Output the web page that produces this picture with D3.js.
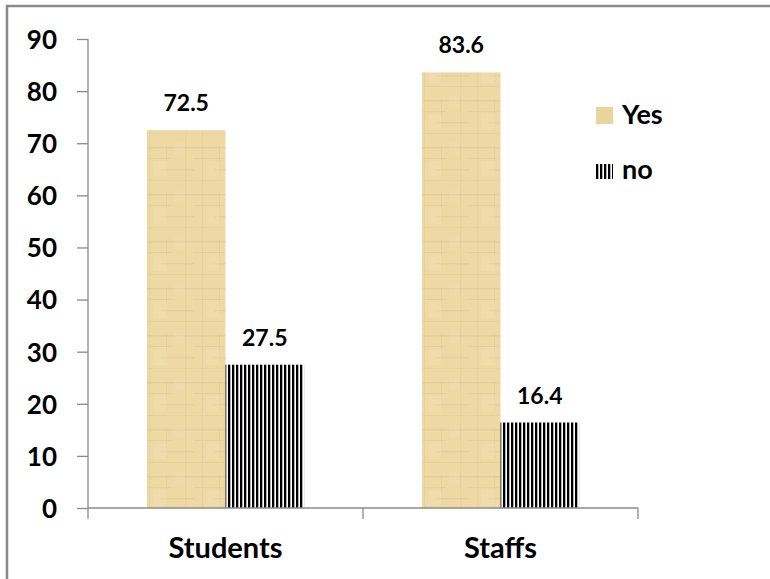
<!DOCTYPE html>
<html>
<head>
<meta charset="utf-8">
<script src="https://cdn.jsdelivr.net/npm/d3@7"></script>
<style>
  html, body { margin: 0; padding: 0; background: #ffffff; }
  svg { display: block; }
  text { font-family: Lato, "Open Sans", sans-serif; font-weight: bold; fill: #000; }
</style>
</head>
<body>
<script>
// ---- data ----
const categories = ["Students", "Staffs"];
const seriesNames = ["Yes", "no"];
const yesValues = [72.5, 83.6];
const noValues = [27.5, 16.4];
const yTickValues = [0, 10, 20, 30, 40, 50, 60, 70, 80, 90];

const W = 770, H = 579;
const svg = d3.select("body").append("svg").attr("width", W).attr("height", H);
const defs = svg.append("defs");

// parchment texture for "Yes"
const parch = defs.append("pattern").attr("id", "parch")
  .attr("patternUnits", "userSpaceOnUse").attr("width", 53).attr("height", 47);
parch.append("rect").attr("width", 53).attr("height", 47).attr("fill", "#EED9A5");
[[0, 6, 53, 1.5, 0.28], [0, 17, 30, 1, 0.22], [20, 28, 33, 1.5, 0.25], [0, 39, 53, 1, 0.2]].forEach(([x, y, w, h, o]) =>
  parch.append("rect").attr("x", x).attr("y", y).attr("width", w).attr("height", h)
    .attr("fill", "#CDB07A").attr("opacity", o));
[[8, 0, 1.2, 47, 0.18], [25, 5, 1, 30, 0.2], [44, 0, 1.5, 47, 0.16]].forEach(([x, y, w, h, o]) =>
  parch.append("rect").attr("x", x).attr("y", y).attr("width", w).attr("height", h)
    .attr("fill", "#CDB07A").attr("opacity", o));
[[12, 20, 14, 16, 0.35], [33, 2, 10, 12, 0.3]].forEach(([x, y, w, h, o]) =>
  parch.append("rect").attr("x", x).attr("y", y).attr("width", w).attr("height", h)
    .attr("fill", "#F4E2B4").attr("opacity", o));

// vertical stripes for "no"
const stripes = defs.append("pattern").attr("id", "stripes")
  .attr("patternUnits", "userSpaceOnUse").attr("width", 4).attr("height", 4);
stripes.append("rect").attr("width", 4).attr("height", 4).attr("fill", "#ffffff");
stripes.append("rect").attr("width", 2.3).attr("height", 4).attr("fill", "#000000");

const fills = { "Yes": "url(#parch)", "no": "url(#stripes)" };

// frame
svg.append("rect").attr("x", 7).attr("y", 6).attr("width", 800).attr("height", 620)
  .attr("fill", "none").attr("stroke", "#8a8a8a").attr("stroke-width", 2.5);

// scales
const plotLeft = 88, plotRight = 638, plotTop = 39, plotBottom = 508;
const x0 = d3.scaleBand().domain(categories).range([plotLeft, plotRight]).paddingInner(0).paddingOuter(0);
const x1 = d3.scaleBand().domain(seriesNames).range([0, x0.bandwidth()]).paddingInner(0).paddingOuter(0.75);
const y = d3.scaleLinear().domain([0, 90]).range([plotBottom, plotTop]);

const rows = categories.map((c, i) => ({ cat: c, values: [
  { s: "Yes", v: yesValues[i] }, { s: "no", v: noValues[i] } ] }));

// bars
const g = svg.append("g");
const grp = g.selectAll("g.cat").data(rows).join("g")
  .attr("transform", d => `translate(${x0(d.cat)},0)`);
grp.selectAll("rect").data(d => d.values).join("rect")
  .attr("x", d => x1(d.s)).attr("width", x1.bandwidth())
  .attr("y", d => y(d.v)).attr("height", d => y(0) - y(d.v))
  .attr("fill", d => fills[d.s]);
grp.selectAll("text.val").data(d => d.values).join("text").attr("class", "val")
  .attr("x", d => x1(d.s) + x1.bandwidth() / 2).attr("y", d => y(d.v) - 19)
  .attr("text-anchor", "middle").style("font-size", "23px")
  .text(d => d.v.toFixed(1));

// y axis
const yAxis = svg.append("g").attr("transform", `translate(${plotLeft},0)`)
  .call(d3.axisLeft(y).tickValues(yTickValues).tickSize(11).tickPadding(20).tickFormat(d3.format("d")));
yAxis.select(".domain").attr("stroke", "#8a8a8a").attr("stroke-width", 1.3).attr("d", `M0,${plotTop}V${plotBottom}`);
yAxis.selectAll(".tick line").attr("stroke", "#8a8a8a").attr("stroke-width", 1.3);
yAxis.selectAll(".tick text").style("font-size", "26px").attr("dy", "0.36em")
  .style("font-family", "Lato, sans-serif").style("font-weight", "bold").attr("fill", "#000");

// x axis
const xAxis = svg.append("g").attr("transform", `translate(0,${plotBottom})`)
  .call(d3.axisBottom(x0).tickSize(0).tickPadding(0));
xAxis.select(".domain").attr("stroke", "#8a8a8a").attr("stroke-width", 1.3).attr("d", `M${plotLeft},0H${plotRight}`);
xAxis.selectAll(".tick text").attr("y", 50).attr("dy", 0).style("font-size", "29px")
  .style("font-family", "Lato, sans-serif").style("font-weight", "bold").attr("fill", "#000");
// category divider ticks
const bounds = [plotLeft, ...categories.map(c => x0(c) + x0.bandwidth())];
xAxis.selectAll("line.div").data(bounds).join("line").attr("class", "div")
  .attr("x1", d => d).attr("x2", d => d).attr("y1", 0).attr("y2", 11)
  .attr("stroke", "#8a8a8a").attr("stroke-width", 1.3);

// legend
const legend = svg.append("g").attr("transform", "translate(596,107)");
const li = legend.selectAll("g").data(seriesNames).join("g")
  .attr("transform", (d, i) => `translate(0,${i * 55})`);
li.append("rect").attr("width", 17).attr("height", d => d === "Yes" ? 17 : 15)
  .attr("y", d => d === "Yes" ? 0 : 2)
  .attr("fill", d => d === "Yes" ? "#EBD49B" : fills[d]);
li.append("text").attr("x", 26).attr("y", 17).style("font-size", "27px").text(d => d);
</script>
</body>
</html>
